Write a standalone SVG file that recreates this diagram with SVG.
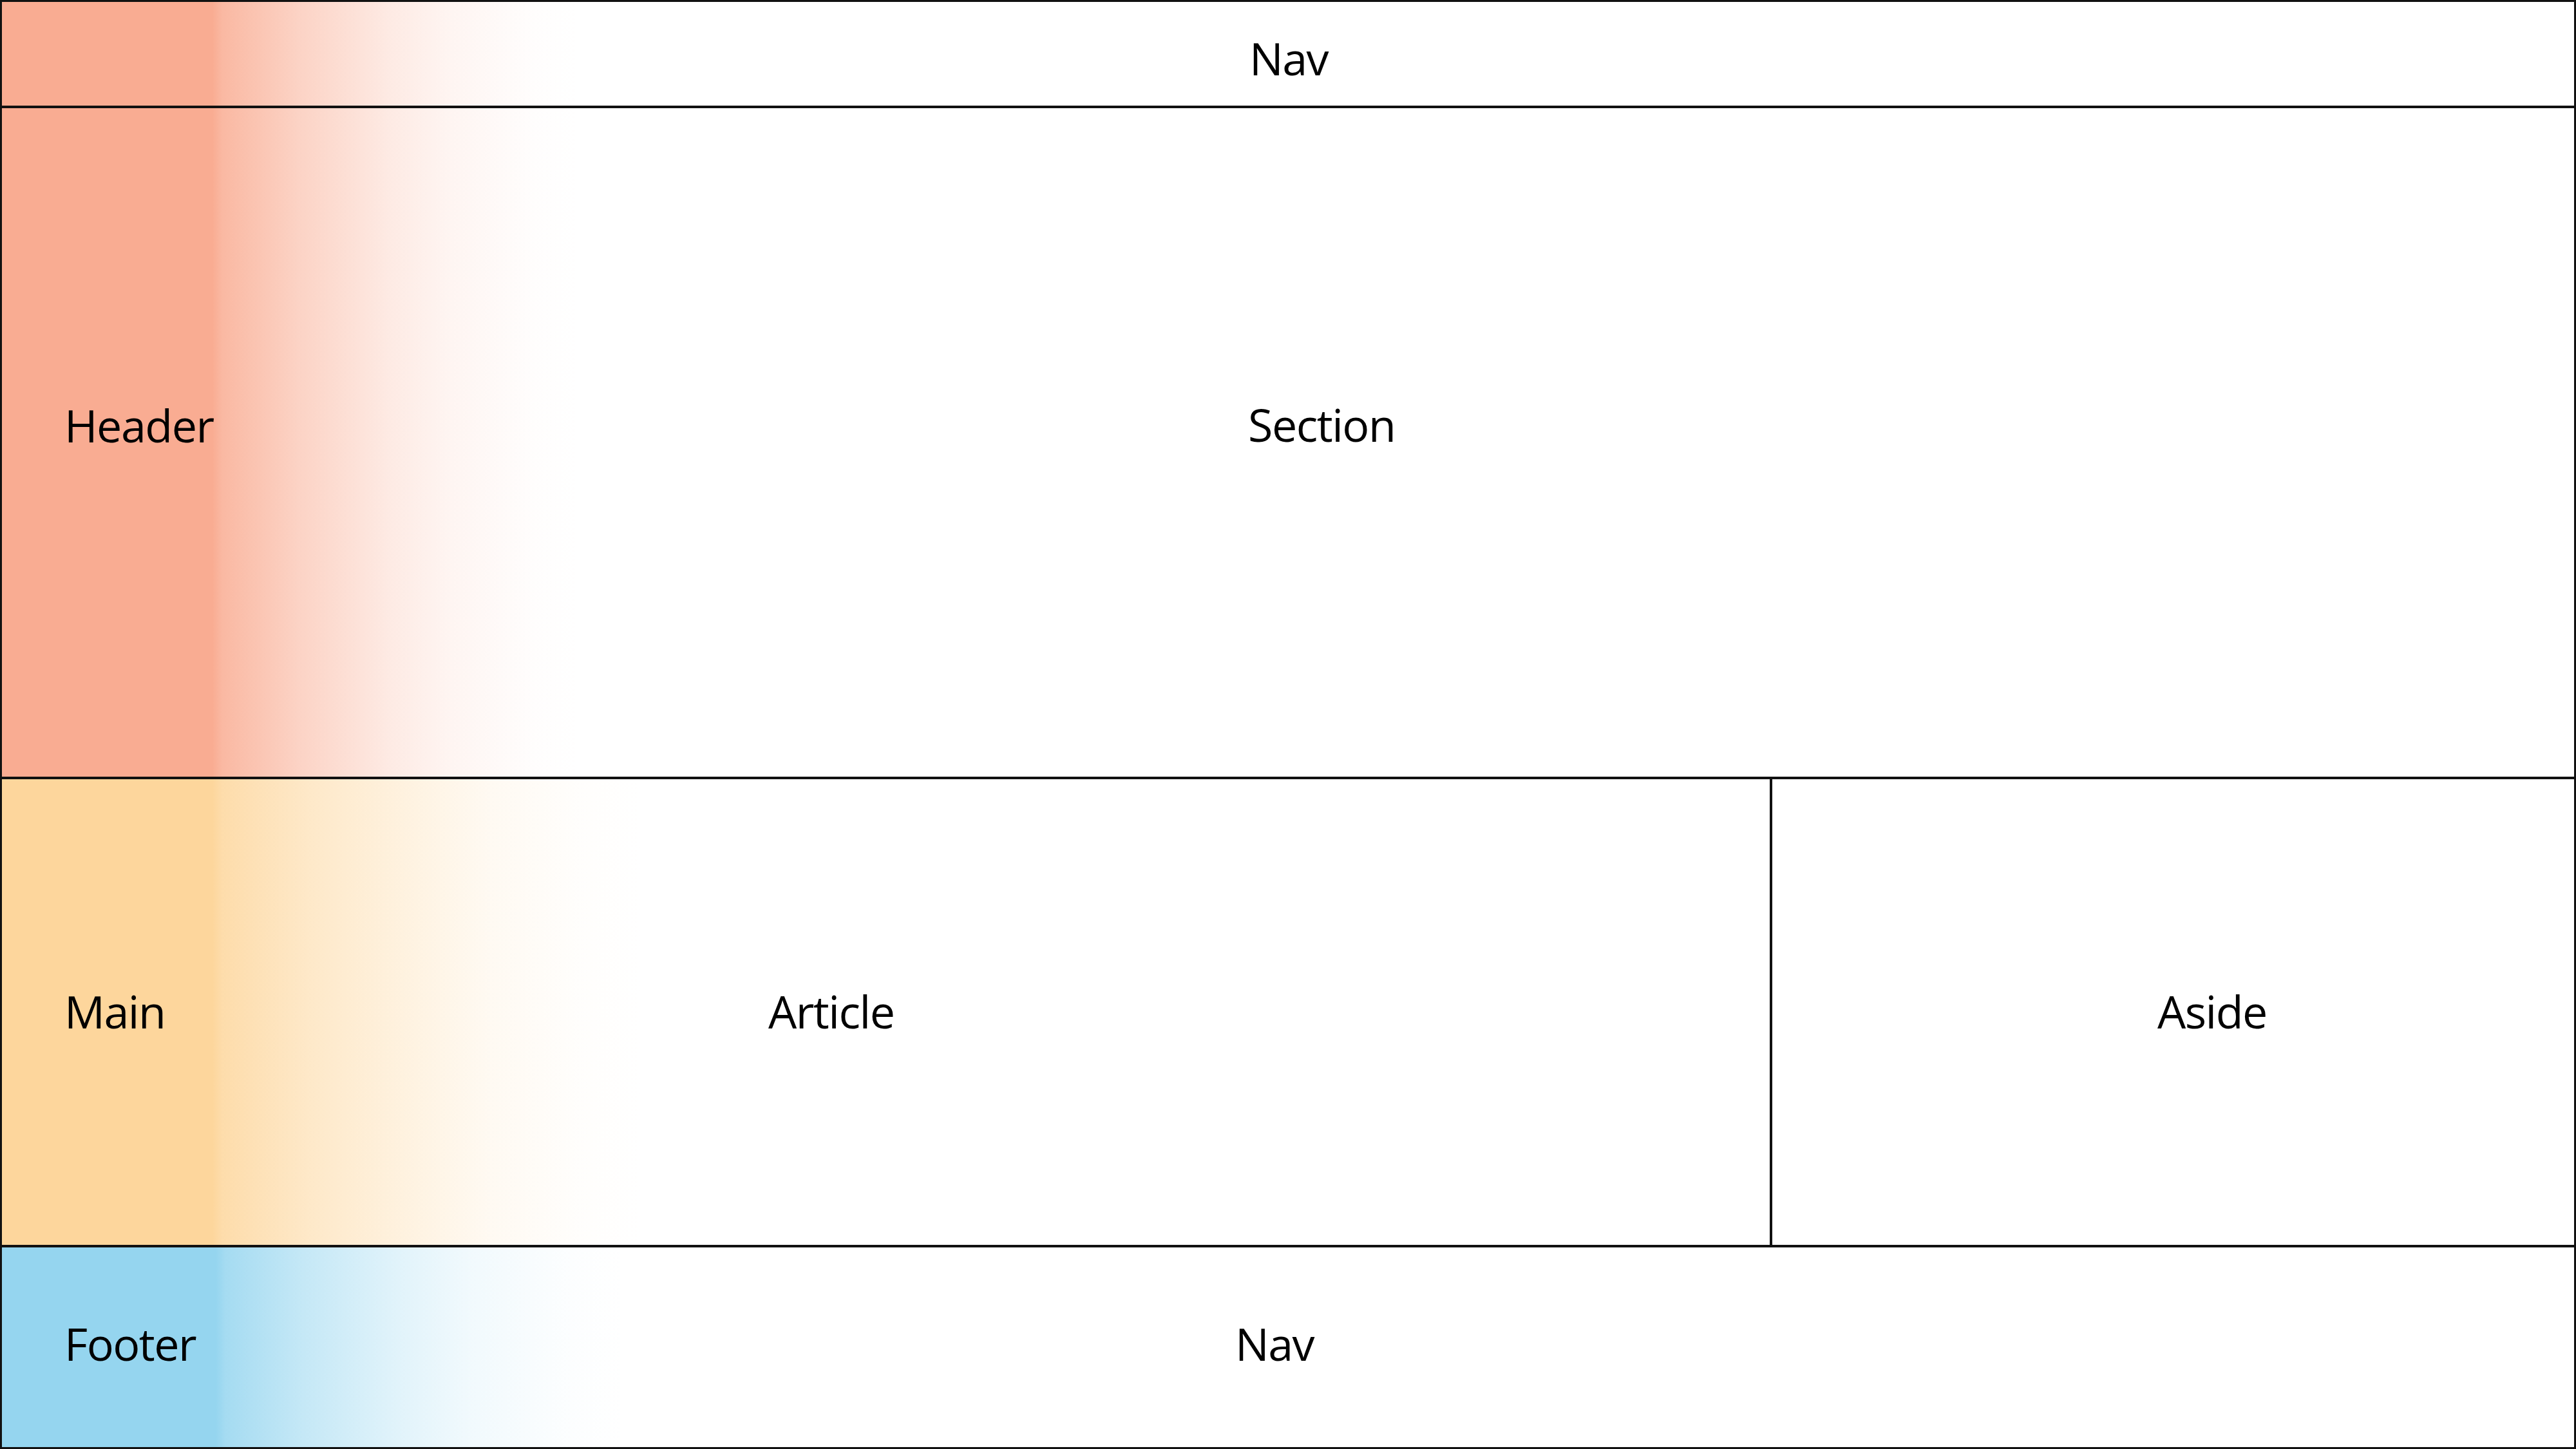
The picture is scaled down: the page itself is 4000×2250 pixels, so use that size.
<svg xmlns="http://www.w3.org/2000/svg" width="4000" height="2250" viewBox="0 0 4000 2250">
<style>
.lbl{font-family:"Open Sans","Liberation Sans",sans-serif;font-size:70px;letter-spacing:-1.5px;fill:#000}
.ln{stroke:#111;stroke-width:4;fill:none}
</style>
<defs>
<linearGradient id="gRed" gradientUnits="userSpaceOnUse" x1="0" y1="0" x2="1000" y2="0">
<stop offset="0" stop-color="#F9AC92"/>
<stop offset="0.33" stop-color="#F9AC92"/>
<stop offset="0.345" stop-color="#F9AC92" stop-opacity="0.85"/>
<stop offset="0.465" stop-color="#F9AC92" stop-opacity="0.53"/>
<stop offset="0.606" stop-color="#F9AC92" stop-opacity="0.25"/>
<stop offset="0.70" stop-color="#F9AC92" stop-opacity="0.12"/>
<stop offset="0.83" stop-color="#F9AC92" stop-opacity="0.02"/>
<stop offset="0.9" stop-color="#F9AC92" stop-opacity="0"/>
</linearGradient>
<linearGradient id="gOrange" gradientUnits="userSpaceOnUse" x1="0" y1="0" x2="1000" y2="0">
<stop offset="0" stop-color="#FDD69C"/>
<stop offset="0.33" stop-color="#FDD69C"/>
<stop offset="0.345" stop-color="#FDD69C" stop-opacity="0.85"/>
<stop offset="0.48" stop-color="#FDD69C" stop-opacity="0.55"/>
<stop offset="0.64" stop-color="#FDD69C" stop-opacity="0.3"/>
<stop offset="0.76" stop-color="#FDD69C" stop-opacity="0.13"/>
<stop offset="0.9" stop-color="#FDD69C" stop-opacity="0.03"/>
<stop offset="1" stop-color="#FDD69C" stop-opacity="0"/>
</linearGradient>
<linearGradient id="gBlue" gradientUnits="userSpaceOnUse" x1="0" y1="0" x2="1000" y2="0">
<stop offset="0" stop-color="#95D5EF"/>
<stop offset="0.335" stop-color="#95D5EF"/>
<stop offset="0.35" stop-color="#95D5EF" stop-opacity="0.85"/>
<stop offset="0.47" stop-color="#95D5EF" stop-opacity="0.55"/>
<stop offset="0.62" stop-color="#95D5EF" stop-opacity="0.28"/>
<stop offset="0.73" stop-color="#95D5EF" stop-opacity="0.13"/>
<stop offset="0.88" stop-color="#95D5EF" stop-opacity="0.03"/>
<stop offset="0.97" stop-color="#95D5EF" stop-opacity="0"/>
</linearGradient>
</defs>
<rect x="0" y="0" width="4000" height="2250" fill="#fff"/>
<g id="header">
<rect x="0" y="0" width="4000" height="1208" fill="url(#gRed)"/>
<text class="lbl" x="100" y="687">Header</text>
</g>
<g id="main">
<rect x="0" y="1208" width="4000" height="727" fill="url(#gOrange)"/>
<text class="lbl" x="100" y="1597">Main</text>
</g>
<g id="footer">
<rect x="0" y="1935" width="4000" height="315" fill="url(#gBlue)"/>
<text class="lbl" x="100" y="2113">Footer</text>
</g>
<g id="nav-top">
<text class="lbl" x="1940" y="117">Nav</text>
</g>
<g id="section">
<text class="lbl" x="1938" y="686">Section</text>
</g>
<g id="article">
<text class="lbl" x="1193" y="1597">Article</text>
</g>
<g id="aside">
<text class="lbl" x="3350" y="1597">Aside</text>
</g>
<g id="nav-bottom">
<text class="lbl" x="1918" y="2113">Nav</text>
</g>
<g id="connectors">
<rect class="ln" x="1" y="1" width="3998" height="2248"/>
<line class="ln" x1="0" y1="166" x2="4000" y2="166"/>
<line class="ln" x1="0" y1="1208" x2="4000" y2="1208"/>
<line class="ln" x1="0" y1="1935" x2="4000" y2="1935"/>
<line class="ln" x1="2750" y1="1208" x2="2750" y2="1935"/>
</g>
</svg>
